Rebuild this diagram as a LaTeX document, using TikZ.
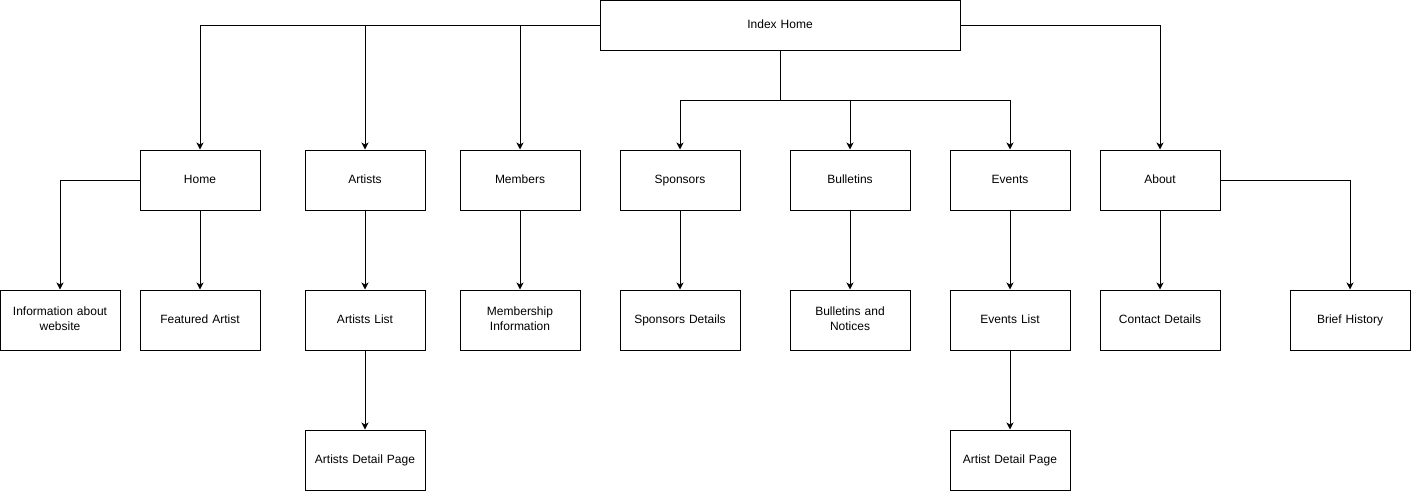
\documentclass[tikz,border=0pt]{standalone}
\usepackage{fontspec}
\setmainfont{Liberation Sans}
\usetikzlibrary{arrows.meta}
\begin{document}
\begin{tikzpicture}[x=1pt,y=-1pt,
  box/.style={draw,line width=1pt,minimum width=120pt,minimum height=60pt,inner sep=0pt,align=center,font=\fontsize{12}{15}\selectfont,text width=110pt,execute at begin node=\strut,execute at end node=\strut},
  conn/.style={line width=1pt,-{Stealth[length=7pt,width=7pt,inset=2pt]}}]
\useasboundingbox (0,0) rectangle (1411,491);
\node[box,minimum width=360pt,minimum height=50pt,text width=340pt] (idx) at (780,25) {Index Home};
\node[box] (home) at (200,180) {Home};
\node[box] (artists) at (365,180) {Artists};
\node[box] (members) at (520,180) {Members};
\node[box] (sponsors) at (680,180) {Sponsors};
\node[box] (bulletins) at (850,180) {Bulletins};
\node[box] (events) at (1010,180) {Events};
\node[box] (about) at (1160,180) {About};
\node[box] (info) at (60,320) {Information about\\website};
\node[box] (feat) at (200,320) {Featured Artist};
\node[box] (alist) at (365,320) {Artists List};
\node[box] (memb) at (520,320) {Membership\\Information};
\node[box] (spd) at (680,320) {Sponsors Details};
\node[box] (bn) at (850,320) {Bulletins and\\Notices};
\node[box] (elist) at (1010,320) {Events List};
\node[box] (contact) at (1160,320) {Contact Details};
\node[box] (hist) at (1350,320) {Brief History};
\node[box] (adp) at (365,460) {Artists Detail Page};
\node[box] (edp) at (1010,460) {Artist Detail Page};
\coordinate (mid) at (780,100);
\draw[conn] (idx.west) -| (home.north);
\draw[conn] (idx.west) -| (artists.north);
\draw[conn] (idx.west) -| (members.north);
\draw[conn] (idx.east) -| (about.north);
\draw[conn] (idx.south) -- (mid) -| (sponsors.north);
\draw[conn] (idx.south) -- (mid) -| (bulletins.north);
\draw[conn] (idx.south) -- (mid) -| (events.north);
\draw[conn] (home.west) -| (info.north);
\draw[conn] (home) -- (feat);
\draw[conn] (artists) -- (alist);
\draw[conn] (members) -- (memb);
\draw[conn] (sponsors) -- (spd);
\draw[conn] (bulletins) -- (bn);
\draw[conn] (events) -- (elist);
\draw[conn] (about) -- (contact);
\draw[conn] (about.east) -| (hist.north);
\draw[conn] (alist) -- (adp);
\draw[conn] (elist) -- (edp);
\end{tikzpicture}
\end{document}
